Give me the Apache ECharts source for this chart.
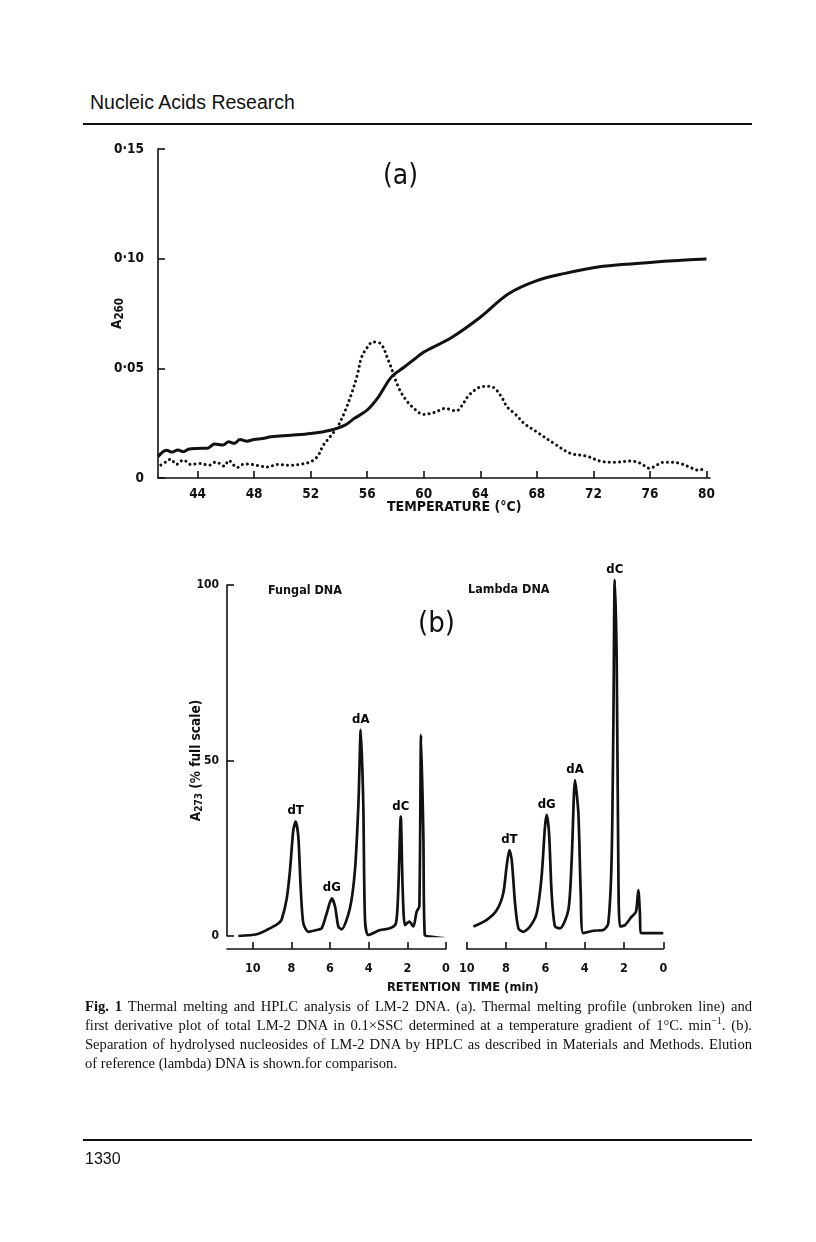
<!DOCTYPE html>
<html>
<head>
<meta charset="utf-8">
<script src="https://cdn.jsdelivr.net/npm/echarts@6/dist/echarts.min.js"></script>
<style>
  html, body { margin: 0; padding: 0; background: #fff; }
  #page { position: relative; width: 816px; height: 1242px; overflow: hidden; }
  #chart { position: absolute; left: 0; top: 0; width: 816px; height: 1242px; }
  .hdr { position: absolute; left: 90px; top: 91px; font-family: 'Liberation Sans', Arial, sans-serif; font-size: 19.5px; color: #111; }
  .rule { position: absolute; left: 83px; width: 669px; height: 2px; background: #111; }
  .cap { position: absolute; left: 85px; top: 997px; width: 667px; font-family: 'Liberation Serif', 'Times New Roman', serif; font-size: 14.6px; color: #111; line-height: 19px; }
  .cap div { text-align: justify; text-align-last: justify; white-space: nowrap; }
  .cap div.last { text-align-last: left; }
  .pg { position: absolute; left: 85px; top: 1150px; font-family: 'Liberation Sans', Arial, sans-serif; font-size: 16px; color: #111; }
</style>
</head>
<body>
<div id="page">
  <div class="hdr">Nucleic Acids Research</div>
  <div class="rule" style="top:123px"></div>
  <div id="chart"></div>
  <div class="cap">
    <div><b>Fig. 1</b> Thermal melting and HPLC analysis of LM-2 DNA. (a). Thermal melting profile (unbroken line) and</div>
    <div>first derivative plot of total LM-2 DNA in 0.1×SSC determined at a temperature gradient of 1°C. min<sup style="font-size:10px;line-height:0">−1</sup>. (b).</div>
    <div>Separation of hydrolysed nucleosides of LM-2 DNA by HPLC as described in Materials and Methods. Elution</div>
    <div class="last">of reference (lambda) DNA is shown.for comparison.</div>
  </div>
  <div class="rule" style="top:1139px"></div>
  <div class="pg">1330</div>
</div>
<script>
// ---------- Panel (a): thermal melting ----------
var meltTemp = [41.2, 41.8, 42.2, 42.6, 43.0, 43.4, 44.0, 44.7, 45.2, 45.8, 46.2, 46.6, 47.0, 47.5, 48.0, 48.6, 49.2, 50.6, 52.0, 53.4, 54.4, 55.1, 56.0, 56.8, 57.7, 58.6, 59.4, 60.0, 62.0, 64.0, 66.0, 68.0, 70.0, 72.0, 74.0, 76.0, 78.0, 80.0];
var meltA260 = [0.0097, 0.0127, 0.0118, 0.0128, 0.0120, 0.0132, 0.0135, 0.0136, 0.0155, 0.0150, 0.0165, 0.0158, 0.0175, 0.0168, 0.0176, 0.0180, 0.0188, 0.0195, 0.0203, 0.0218, 0.0240, 0.0272, 0.0310, 0.0370, 0.0460, 0.0505, 0.0545, 0.0574, 0.0642, 0.0733, 0.0840, 0.0900, 0.0933, 0.0959, 0.0973, 0.0983, 0.0992, 0.0999];

var derivTemp = [41.4, 41.8, 42.1, 42.5, 43.0, 43.5, 44.2, 44.8, 45.3, 45.9, 46.2, 46.8, 47.3, 47.8, 48.4, 49.0, 49.6, 50.4, 51.2, 52.0, 52.5, 52.9, 53.4, 53.9, 54.4, 54.9, 55.3, 55.6, 56.0, 56.4, 56.9, 57.5, 58.2, 58.7, 59.2, 60.0, 60.8, 61.5, 62.3, 62.7, 63.1, 63.6, 64.0, 64.6, 65.0, 65.5, 65.9, 66.5, 67.1, 68.0, 69.2, 70.4, 71.5, 72.7, 73.5, 74.6, 75.3, 76.0, 76.5, 77.0, 77.6, 78.2, 78.8, 79.4, 80.0];
var derivA260 = [0.0059, 0.0075, 0.0086, 0.0062, 0.0082, 0.0062, 0.0066, 0.0058, 0.0073, 0.0054, 0.0080, 0.0048, 0.0064, 0.0062, 0.0055, 0.0050, 0.0062, 0.0058, 0.0062, 0.0074, 0.0100, 0.0150, 0.0190, 0.0233, 0.0300, 0.0386, 0.0470, 0.0550, 0.0595, 0.0620, 0.0615, 0.0536, 0.0415, 0.0360, 0.0324, 0.0290, 0.0300, 0.0317, 0.0306, 0.0330, 0.0370, 0.0400, 0.0415, 0.0418, 0.0410, 0.0370, 0.0324, 0.0290, 0.0249, 0.0210, 0.0158, 0.0112, 0.0100, 0.0074, 0.0072, 0.0077, 0.0068, 0.0044, 0.0060, 0.0072, 0.0072, 0.0065, 0.0050, 0.0036, 0.0045];

var tempTicks = [44, 48, 52, 56, 60, 64, 68, 72, 76, 80];

// ---------- Panel (b): HPLC ----------
var fungalTime = [10.74, 9.79, 9.28, 8.67, 8.5, 8.24, 8.07, 7.9, 7.78, 7.64, 7.52, 7.38, 7.12, 6.69, 6.43, 6.17, 5.91, 5.74, 5.57, 5.4, 4.97, 4.71, 4.53, 4.41, 4.28, 4.19, 4.02, 3.41, 2.9, 2.59, 2.47, 2.34, 2.24, 2.12, 1.9, 1.69, 1.52, 1.38, 1.29, 1.17, 1.10, 0.83, 0.05];
var fungalA273 = [0, 0.5, 1.7, 3.6, 4.7, 10.7, 18.8, 30.2, 32.6, 28.3, 14, 3.6, 1.2, 1.7, 2.2, 6.5, 10.7, 8.4, 2.7, 1.9, 7.9, 18.8, 37.8, 58.7, 37.8, 4.6, 0.3, 1.7, 2.2, 3.6, 13.1, 34, 13, 3.1, 4.1, 2.7, 6.9, 8.4, 57.3, 28.3, 0.3, -0.2, -0.7];

var lambdaTime = [9.66, 8.98, 8.47, 8.14, 7.97, 7.83, 7.71, 7.54, 7.37, 7.12, 6.78, 6.44, 6.19, 6.02, 5.93, 5.81, 5.68, 5.51, 5.25, 4.83, 4.66, 4.49, 4.32, 4.2, 4.07, 3.56, 3.05, 2.8, 2.63, 2.54, 2.47, 2.37, 2.29, 2.2, 1.95, 1.61, 1.39, 1.27, 1.19, 1.14, 0.68, 0];
var lambdaA273 = [2.7, 4.6, 7.4, 12.2, 19.8, 24.5, 21.7, 9.3, 2.2, 1.2, 2.7, 6.5, 16.9, 31.1, 34.5, 29.2, 12.2, 2.7, 2.2, 7.4, 21.7, 44.4, 35, 12.2, 0.8, 1.5, 1.7, 3.6, 21.7, 59.6, 101.5, 78.4, 21.7, 2.7, 3.1, 5.5, 6.9, 13.1, 6.5, 0.9, 0.8, 0.8];

var fungalPeakNames = ['dT', 'dG', 'dA', 'dC'];
var fungalPeakTime = [7.78, 5.91, 4.41, 2.34];
var fungalPeakA273 = [32.6, 10.7, 58.7, 34];
var lambdaPeakNames = ['dT', 'dG', 'dA', 'dC'];
var lambdaPeakTime = [7.83, 5.93, 4.49, 2.47];
var lambdaPeakA273 = [24.5, 34.5, 44.4, 101.5];

var timeTicks = [0, 2, 4, 6, 8, 10];

function zip(a, b) { return a.map(function (v, i) { return [v, b[i]]; }); }
function zip3(a, b, n) { return a.map(function (v, i) { return { value: [v, b[i]], name: n[i] }; }); }

var FONT = "'DejaVu Sans Condensed', 'DejaVu Sans', sans-serif";
var INK = '#111';

function axisCommon(extra) {
  var base = {
    type: 'value',
    splitLine: { show: false },
    axisLine: { show: true, onZero: false, lineStyle: { color: INK, width: 1.6 } },
    axisTick: { show: true, inside: true, length: 7, lineStyle: { color: INK, width: 1.6 } },
    axisLabel: { color: INK, fontFamily: FONT, fontWeight: 'bold', fontSize: 12.5 }
  };
  for (var k in extra) {
    if (typeof extra[k] === 'object' && base[k] && !Array.isArray(extra[k])) {
      base[k] = Object.assign({}, base[k], extra[k]);
    } else base[k] = extra[k];
  }
  return base;
}

var chart = echarts.init(document.getElementById('chart'), null, { renderer: 'canvas' });

var labelStyle = { show: true, position: 'top', distance: 4, color: '#000', opacity: 1, fontFamily: FONT, fontWeight: 'bold', fontSize: 13, formatter: '{b}' };

chart.setOption({
  animation: false,
  backgroundColor: 'transparent',
  grid: [
    { left: 158, top: 149, width: 552, height: 329 },
    { left: 227, top: 585, width: 219, height: 351 },
    { left: 466.7, top: 585, width: 196.6, height: 351 }
  ],
  xAxis: [
    axisCommon({
      gridIndex: 0, min: 41.2, max: 80.25,
      axisTick: { customValues: tempTicks },
      axisLabel: { customValues: tempTicks, margin: 9, fontSize: 13.5 }
    }),
    axisCommon({
      gridIndex: 1, min: 0, max: 11.33, inverse: true, offset: 13,
      axisTick: { customValues: timeTicks },
      axisLabel: { customValues: timeTicks, margin: 13 }
    }),
    axisCommon({
      gridIndex: 2, min: 0, max: 10, inverse: true, offset: 13,
      axisTick: { customValues: timeTicks },
      axisLabel: { customValues: timeTicks, margin: 13 }
    })
  ],
  yAxis: [
    axisCommon({
      gridIndex: 0, min: 0, max: 0.15, interval: 0.05,
      axisLabel: { margin: 14, fontSize: 13.5, formatter: function (v) { return v === 0 ? '0' : v.toFixed(2).replace('.', '·'); } },
      name: '{a|A}{s|260}', nameLocation: 'middle', nameGap: 32, nameRotate: 90, nameMoveOverlap: false,
      nameTextStyle: { rich: { a: { fontFamily: FONT, fontWeight: 'bold', fontSize: 13.5, color: INK }, s: { fontFamily: FONT, fontWeight: 'bold', fontSize: 11.5, color: INK, padding: [5, 0, 0, 0] } } }
    }),
    axisCommon({
      gridIndex: 1, min: 0, max: 100, interval: 50,
      axisLabel: { margin: 8, fontSize: 12 },
      name: '{a|A}{s|273}{a| (% full scale)}', nameLocation: 'middle', nameGap: 23, nameRotate: 90, nameMoveOverlap: false,
      nameTextStyle: { rich: { a: { fontFamily: FONT, fontWeight: 'bold', fontSize: 13.5, color: INK }, s: { fontFamily: FONT, fontWeight: 'bold', fontSize: 10, color: INK, padding: [6, 0, 0, 0] } } }
    }),
    { type: 'value', gridIndex: 2, min: 0, max: 100, show: false }
  ],
  series: [
    {
      name: 'Melting profile', type: 'line', xAxisIndex: 0, yAxisIndex: 0,
      data: zip(meltTemp, meltA260), showSymbol: false, smooth: 0.35,
      lineStyle: { color: INK, width: 3 }
    },
    {
      name: 'First derivative', type: 'line', xAxisIndex: 0, yAxisIndex: 0,
      data: zip(derivTemp, derivA260), showSymbol: false, smooth: 0.35,
      lineStyle: { color: INK, width: 3, type: [0.1, 5], cap: 'round' }
    },
    {
      name: 'Fungal DNA', type: 'line', xAxisIndex: 1, yAxisIndex: 1,
      data: zip(fungalTime, fungalA273), showSymbol: false, smooth: 0.25,
      lineStyle: { color: INK, width: 2.7 }
    },
    {
      name: 'Lambda DNA', type: 'line', xAxisIndex: 2, yAxisIndex: 2, clip: false,
      data: zip(lambdaTime, lambdaA273), showSymbol: false, smooth: 0.25,
      lineStyle: { color: INK, width: 2.7 }
    },
    {
      type: 'scatter', xAxisIndex: 1, yAxisIndex: 1, symbolSize: 0, silent: true,
      itemStyle: { opacity: 1 },
      data: zip3(fungalPeakTime, fungalPeakA273, fungalPeakNames), label: labelStyle
    },
    {
      type: 'scatter', xAxisIndex: 2, yAxisIndex: 2, symbolSize: 0, silent: true, clip: false,
      itemStyle: { opacity: 1 },
      data: zip3(lambdaPeakTime, lambdaPeakA273, lambdaPeakNames), label: labelStyle
    }
  ],
  graphic: [
    { type: 'text', left: 383, top: 163, style: { text: '(a)', font: '28px "DejaVu Sans Condensed", sans-serif', fill: INK } },
    { type: 'text', left: 387, top: 500, style: { text: 'TEMPERATURE (°C)', font: 'bold 14px "DejaVu Sans Condensed", sans-serif', fill: INK } },
    { type: 'text', left: 418, top: 610, style: { text: '(b)', font: '29px "DejaVu Sans Condensed", sans-serif', fill: INK } },
    { type: 'text', left: 268, top: 584, style: { text: 'Fungal DNA', font: 'bold 12.5px "DejaVu Sans Condensed", sans-serif', fill: INK } },
    { type: 'text', left: 468, top: 583, style: { text: 'Lambda DNA', font: 'bold 12.5px "DejaVu Sans Condensed", sans-serif', fill: INK } },
    { type: 'text', left: 387, top: 981, style: { text: 'RETENTION  TIME (min)', font: 'bold 12.8px "DejaVu Sans Condensed", sans-serif', fill: INK } }
  ]
});
</script>
</body>
</html>
